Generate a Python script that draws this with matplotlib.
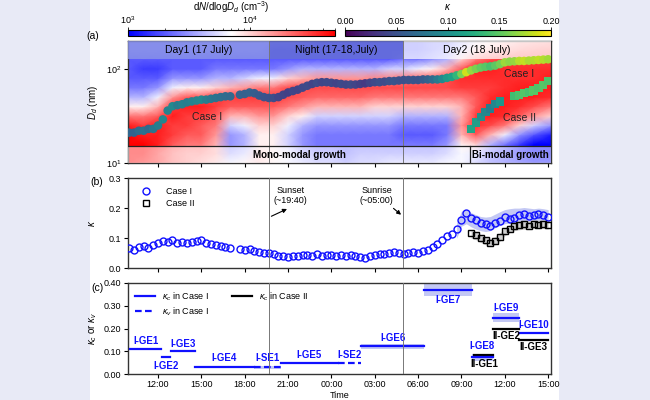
import numpy as np
import matplotlib
matplotlib.use("Agg")
import matplotlib.pyplot as plt
from matplotlib.colors import LogNorm, Normalize
from matplotlib.patches import Rectangle
from matplotlib.ticker import FixedLocator, FuncFormatter, NullFormatter

plt.rcParams['font.family'] = ['Liberation Sans', 'DejaVu Sans']
plt.rcParams['mathtext.fontset'] = 'custom'
plt.rcParams['mathtext.rm'] = 'Liberation Sans'
plt.rcParams['mathtext.it'] = 'Liberation Sans:italic'
plt.rcParams['font.size'] = 7

# ---- data ----
# time in hours since 17 July 00:00
# case I mode diameter (nm) and kappa, sampled every 20 min from 10:00 (17 Jul) to 15:00 (18 Jul)
dd_I = [21, 21, 22,  22, 23, 23,  25, 29, 36,  40, 41, 42,  44, 45, 46,
        47, 47, 48,  49, 50, 51,  51, np.nan, 53,  54, 56, 55,  52, 50, 49,
        49, 50, 53,  56, 58, 60,  63, 66, 69,  71, 72, 72,  71, 70, 69,
        68, 68, 68,  69, 70, 71,  72, 72, 73,  74, 74, 75,  76, 76, 76,
        76, 77, 77,  77, 77, 78,  80, 82, 85,  88, 92, 96,  100, 103, 105,
        106, 108, 112,  117, 119, 120,  121, 121, 122,  123, 124, 125,  126]
kappa_I = [0.066, 0.062, 0.070,  0.074, 0.068, 0.079,  0.085, 0.092, 0.088,
           0.094, 0.083, 0.087,  0.085, 0.088, 0.091,  0.093, 0.085, 0.080,
           0.076, 0.073, 0.070,  0.068, np.nan, 0.064,  0.061, 0.063, 0.058,
           0.055, 0.052, 0.050,  0.047, 0.042, 0.040,  0.038, 0.042, 0.040,
           0.043, 0.045, 0.041,  0.046, 0.042, 0.044,  0.043, 0.040, 0.044,
           0.042, 0.045, 0.041,  0.037, 0.034, 0.040,  0.045, 0.048, 0.046,
           0.050, 0.053, 0.050,  0.049, 0.051, 0.053,  0.052, 0.056, 0.062,
           0.070, 0.082, 0.094,  0.108, 0.115, 0.132,  0.160, 0.185, 0.168,
           0.160, 0.152, 0.148,  0.142, 0.150, 0.158,  0.170, 0.165, 0.168,
           0.178, 0.182, 0.175,  0.176, 0.180, 0.177,  0.172]
t_I = np.round(10 + np.arange(len(kappa_I)) / 3, 3)

# case II (from 09:40, 18 Jul)
dd_II = [23, 27, 31, 35, 38, 42, 45, np.nan, np.nan, 51, 53, 55, 57, 59, 62, 67, 74]
kappa_II = [0.117, 0.111, 0.100, 0.094, 0.085, 0.092, 0.105, 0.125, 0.132,
            0.139, 0.143, 0.146, 0.142, 0.148, 0.145, 0.147, 0.144]
t_II = np.round(33 + 2 / 3 + np.arange(len(kappa_II)) / 3, 3)

# uncertainty bands in (b)
band_I_hi = [0.150, 0.190, 0.195, 0.185, 0.178, 0.172, 0.170, 0.172, 0.180, 0.188,
             0.195, 0.198, 0.200, 0.200, 0.202, 0.200, 0.198, 0.200, 0.198, 0.195]
band_I_lo = [0.100, 0.140, 0.148, 0.138, 0.130, 0.125, 0.122, 0.125, 0.135, 0.142,
             0.148, 0.150, 0.155, 0.155, 0.158, 0.156, 0.155, 0.156, 0.155, 0.152]
band_II_hi = [0.128, 0.122, 0.112, 0.105, 0.098, 0.105, 0.118, 0.135, 0.145,
              0.152, 0.156, 0.158, 0.158, 0.160, 0.160, 0.160, 0.158]
band_II_lo = [0.100, 0.095, 0.086, 0.078, 0.072, 0.078, 0.090, 0.108, 0.118,
              0.125, 0.128, 0.130, 0.130, 0.132, 0.132, 0.132, 0.130]

# size distribution, log10(dN/dlogDd) per hour, bottom (10 nm) -> top (200 nm)
hm_hours = [9.9, 11, 12, 13, 14, 15, 16, 17, 18, 19, 20, 21, 22, 23, 24,
            25, 26, 27, 28, 29, 30, 31, 32, 33, 34, 35, 36, 37, 38, 39.2]
hm_diam = [10, 12.6, 15.8, 20, 25.1, 31.6, 39.8, 50.1, 63.1, 79.4, 100, 126, 158, 200]
hm_logn = [
    [4.7, 4.7, 4.7, 4.7, 4.6, 4.3, 3.9, 3.6, 3.4, 3.3, 3.3, 3.3, 3.4, 3.4],
    [4.6, 4.7, 4.7, 4.6, 4.5, 4.3, 3.9, 3.6, 3.4, 3.3, 3.2, 3.3, 3.4, 3.4],
    [4.5, 4.5, 4.6, 4.6, 4.6, 4.4, 4.1, 3.8, 3.5, 3.3, 3.2, 3.3, 3.4, 3.4],
    [4.3, 4.3, 4.4, 4.5, 4.5, 4.6, 4.5, 4.2, 3.8, 3.5, 3.3, 3.3, 3.4, 3.4],
    [4.2, 4.2, 4.3, 4.4, 4.5, 4.5, 4.6, 4.4, 3.9, 3.5, 3.3, 3.3, 3.4, 3.4],
    [4.1, 4.2, 4.3, 4.4, 4.4, 4.5, 4.6, 4.4, 3.9, 3.5, 3.3, 3.3, 3.4, 3.4],
    [4.0, 4.1, 4.1, 4.2, 4.3, 4.4, 4.5, 4.5, 4.0, 3.6, 3.4, 3.3, 3.4, 3.4],
    [3.8, 3.6, 3.5, 3.5, 3.7, 4.1, 4.4, 4.5, 4.1, 3.6, 3.4, 3.3, 3.4, 3.4],
    [3.9, 3.7, 3.6, 3.6, 3.8, 4.1, 4.4, 4.5, 4.2, 3.7, 3.4, 3.3, 3.4, 3.4],
    [4.0, 4.0, 3.9, 3.9, 4.0, 4.2, 4.4, 4.5, 4.3, 3.8, 3.4, 3.3, 3.4, 3.4],
    [3.9, 3.9, 3.9, 3.9, 4.0, 4.2, 4.4, 4.5, 4.3, 3.8, 3.4, 3.3, 3.3, 3.4],
    [3.8, 3.8, 3.7, 3.7, 3.8, 4.0, 4.3, 4.45, 4.45, 4.0, 3.5, 3.3, 3.3, 3.4],
    [3.7, 3.6, 3.5, 3.5, 3.6, 3.9, 4.2, 4.4, 4.45, 4.1, 3.6, 3.3, 3.3, 3.4],
    [3.6, 3.5, 3.4, 3.4, 3.5, 3.7, 4.1, 4.35, 4.45, 4.2, 3.6, 3.3, 3.3, 3.3],
    [3.6, 3.5, 3.4, 3.4, 3.5, 3.7, 4.1, 4.35, 4.45, 4.2, 3.6, 3.3, 3.3, 3.3],
    [3.5, 3.4, 3.4, 3.4, 3.5, 3.7, 4.1, 4.35, 4.45, 4.2, 3.6, 3.3, 3.3, 3.3],
    [3.6, 3.5, 3.4, 3.4, 3.5, 3.7, 4.1, 4.35, 4.45, 4.2, 3.6, 3.3, 3.3, 3.3],
    [3.6, 3.5, 3.4, 3.4, 3.5, 3.7, 4.0, 4.3, 4.45, 4.25, 3.6, 3.3, 3.3, 3.3],
    [3.7, 3.5, 3.4, 3.4, 3.5, 3.7, 4.0, 4.3, 4.45, 4.25, 3.7, 3.3, 3.3, 3.3],
    [3.7, 3.5, 3.4, 3.3, 3.4, 3.6, 4.0, 4.3, 4.45, 4.3, 3.7, 3.4, 3.3, 3.3],
    [3.7, 3.5, 3.4, 3.3, 3.4, 3.6, 4.0, 4.3, 4.45, 4.35, 3.8, 3.4, 3.3, 3.3],
    [3.7, 3.5, 3.4, 3.3, 3.4, 3.6, 4.0, 4.3, 4.45, 4.4, 3.9, 3.5, 3.4, 3.4],
    [3.8, 3.6, 3.5, 3.4, 3.4, 3.6, 4.0, 4.3, 4.45, 4.45, 4.1, 3.6, 3.5, 3.4],
    [3.8, 3.8, 3.9, 4.1, 4.2, 4.1, 4.1, 4.3, 4.5, 4.55, 4.4, 4.0, 3.7, 3.6],
    [3.6, 3.7, 4.0, 4.4, 4.55, 4.5, 4.4, 4.4, 4.5, 4.55, 4.6, 4.3, 4.0, 3.8],
    [3.4, 3.4, 3.6, 4.1, 4.45, 4.6, 4.6, 4.55, 4.5, 4.55, 4.6, 4.45, 4.1, 3.9],
    [3.3, 3.3, 3.4, 3.8, 4.3, 4.55, 4.6, 4.6, 4.55, 4.55, 4.55, 4.5, 4.2, 4.0],
    [3.2, 3.1, 3.2, 3.5, 4.0, 4.4, 4.55, 4.6, 4.6, 4.55, 4.55, 4.5, 4.3, 4.1],
    [3.1, 3.0, 3.0, 3.3, 3.7, 4.2, 4.45, 4.6, 4.6, 4.55, 4.55, 4.5, 4.35, 4.15],
    [3.1, 3.0, 3.0, 3.1, 3.5, 4.0, 4.3, 4.55, 4.6, 4.6, 4.55, 4.5, 4.4, 4.2],
]

# growth events (c)
seg_labels = ['I-GE1', 'I-GE2', 'I-GE3', 'I-GE4', 'I-SE1', 'I-GE5', 'I-SE2',
              'I-GE6', 'I-GE7', 'I-GE8', 'I-GE9', 'I-GE10']
seg_start = [10.05, 12.3, 12.93, 14.54, 18.63, 20.5, 24.45, 26.08, 30.4, 33.7, 35.2, 37.0]
seg_end = [12.23, 12.86, 14.54, 18.63, 20.5, 24.45, 26.08, 30.42, 33.7, 35.2, 37.0, 39.0]
seg_kappa = [0.112, 0.076, 0.099, 0.029, 0.030, 0.047, 0.047, 0.121, 0.368, 0.073, 0.248, 0.179]
seg_kind = ['c', 'c', 'c', 'c', 'v', 'c', 'v', 'c', 'c', 'c', 'c', 'c']
seg_err = [0, 0, 0, 0, 0.007, 0.003, 0, 0.011, 0.027, 0.017, 0.02, 0]
seg_label_dy = [0.035, -0.04, 0.035, 0.04, 0.04, 0.036, 0.038, 0.036, -0.044, 0.05, 0.044, 0.035]

seg2_labels = ['II-GE1', 'II-GE2', 'II-GE3']
seg2_start = [33.9, 35.2, 37.0]
seg2_end = [35.2, 37.0, 39.0]
seg2_kappa = [0.083, 0.200, 0.148]
seg2_label_dy = [-0.038, -0.032, -0.03]

sunset, sunrise = 19.67, 28.97
periods = ['Day1 (17 July)', 'Night (17-18,July)', 'Day2 (18 July)']
XMIN, XMAX = 9.92, 39.2

BLUE = '#1010ff'
hnorm = LogNorm(1e3, 10 ** 4.7)
knorm = Normalize(0, 0.2)

fig = plt.figure(figsize=(6.5, 4), dpi=100, facecolor='#e8eaf6')
fig.patches.append(Rectangle((90 / 650, 0), 469 / 650, 1, transform=fig.transFigure,
                             facecolor='white', edgecolor='none', zorder=-1))

L, W = 128 / 650, 423 / 650
ax_a = fig.add_axes([L, 1 - 163 / 400, W, 122 / 400])
ax_b = fig.add_axes([L, 1 - 268.3 / 400, W, 90.3 / 400])
ax_c = fig.add_axes([L, 1 - 374 / 400, W, 91 / 400])


def hour_fmt(x, pos):
    return '%02d:00' % (int(round(x)) % 24)


for ax in (ax_a, ax_b, ax_c):
    ax.set_xlim(XMIN, XMAX)
    ax.xaxis.set_major_locator(FixedLocator(range(12, 40, 3)))
    ax.tick_params(direction='out', length=3, width=0.8, labelsize=6.5, pad=2)
    for s in ax.spines.values():
        s.set_linewidth(1.0)
        s.set_color('#333333')
    ax.axvline(sunset, color='#777777', lw=0.7, zorder=5)
    ax.axvline(sunrise, color='#777777', lw=0.7, zorder=5)
ax_a.xaxis.set_major_formatter(NullFormatter())
ax_b.xaxis.set_major_formatter(NullFormatter())
ax_c.xaxis.set_major_formatter(FuncFormatter(hour_fmt))
ax_c.tick_params(axis='x', pad=1.5)

# ---- (a) ----
X, Y = np.meshgrid(hm_hours, hm_diam)
C = 10 ** np.array(hm_logn).T
ax_a.pcolormesh(X, Y, C, cmap='bwr', norm=hnorm, shading='gouraud', rasterized=True)
ax_a.set_yscale('log')
ax_a.set_ylim(10, 197)
ax_a.yaxis.set_major_locator(FixedLocator([10, 100]))
ax_a.yaxis.set_major_formatter(FuncFormatter(lambda v, p: '$10^{%d}$' % round(np.log10(v))))
ax_a.yaxis.set_minor_formatter(NullFormatter())
ax_a.tick_params(which='minor', length=0)
ax_a.set_ylabel('$D_d$ (nm)', fontsize=7, labelpad=4)

ok = ~np.isnan(np.array(dd_I, dtype=float))
ax_a.scatter(t_I[ok], np.array(dd_I)[ok], c=np.array(kappa_I)[ok], cmap='viridis',
             norm=knorm, s=38, marker='o', edgecolors='none', zorder=6)
ok2 = ~np.isnan(np.array(dd_II, dtype=float))
ax_a.scatter(t_II[ok2], np.array(dd_II)[ok2], c=np.array(kappa_II)[ok2], cmap='viridis',
             norm=knorm, s=36, marker='s', edgecolors='none', zorder=6)

band_cols = [('#8a94e6', 0.8), ('#6670d4', 0.8), ('white', 0.72)]
edges = [XMIN, sunset, sunrise, XMAX]
for i, (lab, (fc, al)) in enumerate(zip(periods, band_cols)):
    ax_a.add_patch(Rectangle((edges[i], 128), edges[i + 1] - edges[i], 197 - 128,
                             facecolor=fc, alpha=al, edgecolor='none', zorder=4))
    ax_a.text((edges[i] + edges[i + 1]) / 2, 158, lab, ha='center', va='center',
              fontsize=7.5, zorder=7)

split = 33.6
ax_a.add_patch(Rectangle((XMIN, 10), split - XMIN, 5.0, facecolor='white', alpha=0.55,
                         edgecolor='none', zorder=4))
ax_a.add_patch(Rectangle((split, 10), XMAX - split, 5.0, facecolor='white', alpha=0.55,
                         edgecolor='none', zorder=4))
ax_a.axhline(15.0, color='#222222', lw=0.9, zorder=7)
ax_a.plot([split, split], [10, 15.0], color='#222222', lw=0.9, zorder=7)
ax_a.text((XMIN + split) / 2, 12.1, 'Mono-modal growth', ha='center', va='center',
          fontsize=7, fontweight='bold', zorder=8)
ax_a.text((split + XMAX) / 2, 12.1, 'Bi-modal growth', ha='center', va='center',
          fontsize=7, fontweight='bold', zorder=8)
ax_a.text(15.4, 31, 'Case I', ha='center', va='center', fontsize=7.5, color='#222222', zorder=8)
ax_a.text(37.0, 87, 'Case I', ha='center', va='center', fontsize=7.5, color='#222222', zorder=8)
ax_a.text(37.0, 30, 'Case II', ha='center', va='center', fontsize=7.5, color='#222222', zorder=8)

# colorbars
cax1 = fig.add_axes([128 / 650, 1 - 35.7 / 400, 207 / 650, 5.7 / 400])
cax2 = fig.add_axes([345 / 650, 1 - 35.7 / 400, 206 / 650, 5.7 / 400])
cb1 = fig.colorbar(plt.cm.ScalarMappable(norm=hnorm, cmap='bwr'), cax=cax1, orientation='horizontal')
cb1.set_ticks([1e3, 1e4])
cb1.set_ticklabels(['$10^3$', '$10^4$'])
cb2 = fig.colorbar(plt.cm.ScalarMappable(norm=knorm, cmap='viridis'), cax=cax2, orientation='horizontal')
cb2.set_ticks([0, 0.05, 0.10, 0.15, 0.20])
cb2.set_ticklabels(['0.00', '0.05', '0.10', '0.15', '0.20'])
for cb in (cb1, cb2):
    cb.ax.xaxis.set_ticks_position('top')
    cb.ax.tick_params(labelsize=6.5, length=2, width=0.6, pad=1)
    cb.ax.tick_params(which='minor', length=1.2, width=0.5)
    cb.outline.set_linewidth(0.8)
fig.text(231 / 650, 1 - 7 / 400, 'd$N$/dlog$D_d$ (cm$^{-3}$)', ha='center', va='center', fontsize=7)
fig.text(448 / 650, 1 - 7 / 400, r'$\kappa$', ha='center', va='center', fontsize=7)

# ---- (b) ----
ax_b.fill_between(t_I[-len(band_I_hi):], band_I_lo, band_I_hi, color='#c3c8f4', lw=0, zorder=1)
ax_b.fill_between(t_II, band_II_lo, band_II_hi, color='#cfcfcf', lw=0, zorder=1)
ax_b.plot(t_I, kappa_I, ls='none', marker='o', ms=5, mfc='none', mec=BLUE, mew=1.0,
          label='Case I', zorder=3)
ax_b.plot(t_II, kappa_II, ls='none', marker='s', ms=5, mfc='none', mec='black', mew=1.0,
          label='Case II', zorder=3)
ax_b.set_ylim(0, 0.3)
ax_b.set_yticks([0.0, 0.1, 0.2, 0.3])
ax_b.yaxis.set_major_formatter(FuncFormatter(lambda v, p: '%.1f' % v))
ax_b.set_ylabel(r'$\kappa$', fontsize=7, labelpad=8)
ax_b.legend(loc='upper left', frameon=False, fontsize=6.5, handletextpad=1.2,
            borderaxespad=0.6, labelspacing=0.3)
ax_b.annotate('Sunset\n(~19:40)', xy=(21.1, 0.201), xytext=(21.17, 0.242),
              ha='center', va='center', fontsize=6.5)
ax_b.annotate('', xy=(21.1, 0.201), xytext=(sunset, 0.169),
              arrowprops=dict(arrowstyle='-|>', lw=0.8, color='black', mutation_scale=6))
ax_b.annotate('Sunrise\n(~05:00)', xy=(27.12, 0.242), ha='center', va='center', fontsize=6.5)
ax_b.annotate('', xy=(sunrise, 0.172), xytext=(28.15, 0.205),
              arrowprops=dict(arrowstyle='-|>', lw=0.8, color='black', mutation_scale=6))

# ---- (c) ----
for lab, x0, x1, k, kind, err, dy in zip(seg_labels, seg_start, seg_end, seg_kappa,
                                         seg_kind, seg_err, seg_label_dy):
    if err > 0:
        ax_c.fill_between([x0, x1], k - err, k + err, color='#c3c8f4', lw=0, zorder=1)
    ax_c.plot([x0, x1], [k, k], color=BLUE, lw=1.6, ls='-' if kind == 'c' else (0, (3, 1.5)), zorder=3)
    ax_c.text((x0 + x1) / 2, k + dy, lab, ha='center', va='center', fontsize=7,
              fontweight='bold', color=BLUE, zorder=4)
for lab, x0, x1, k, dy in zip(seg2_labels, seg2_start, seg2_end, seg2_kappa, seg2_label_dy):
    ax_c.plot([x0, x1], [k, k], color='black', lw=1.6, zorder=2)
    ax_c.text((x0 + x1) / 2, k + dy, lab, ha='center', va='center', fontsize=7,
              fontweight='bold', color='black', zorder=4)
ax_c.set_ylim(0, 0.4)
ax_c.set_yticks([0, 0.1, 0.2, 0.3, 0.4])
ax_c.yaxis.set_major_formatter(FuncFormatter(lambda v, p: '%.2f' % v))
ax_c.set_ylabel(r'$\kappa_c$ or $\kappa_v$', fontsize=7, labelpad=3)
ax_c.set_xlabel('Time', fontsize=6.5, labelpad=1)
h1, = ax_c.plot([], [], color=BLUE, lw=1.6, label=r'$\kappa_c$ in Case I')
h2, = ax_c.plot([], [], color=BLUE, lw=1.6, ls=(0, (3, 1.5)), label=r'$\kappa_v$ in Case I')
h3, = ax_c.plot([], [], color='black', lw=1.6, label=r'$\kappa_c$ in Case II')
ax_c.legend(handles=[h1, h2, h3], ncol=2, loc='upper left', frameon=False, fontsize=6.5,
            handlelength=2.2, columnspacing=2.5, labelspacing=0.3, borderaxespad=0.4)

fig.text(93 / 650, 1 - 36 / 400, '(a)', fontsize=7.5, ha='center', va='center')
fig.text(97 / 650, 1 - 182 / 400, '(b)', fontsize=7.5, ha='center', va='center')
fig.text(97 / 650, 1 - 288 / 400, '(c)', fontsize=7.5, ha='center', va='center')

fig.savefig('out.png', dpi=100, facecolor=fig.get_facecolor())
